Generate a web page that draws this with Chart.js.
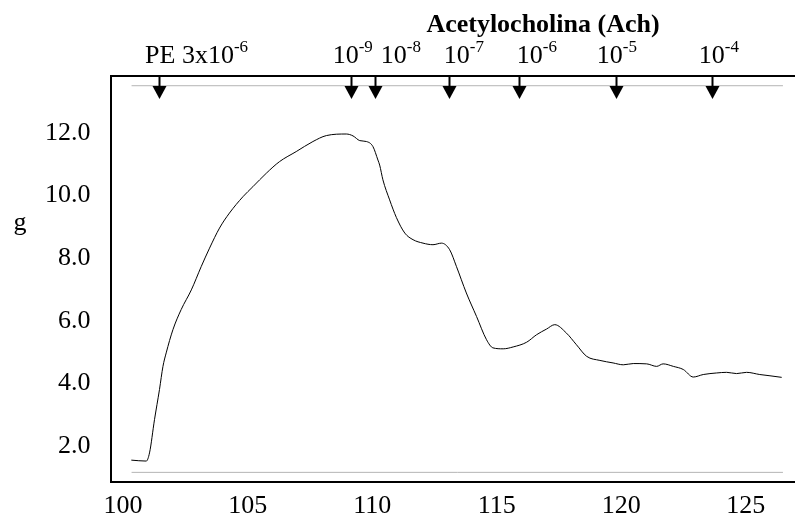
<!DOCTYPE html>
<html lang="es">
<head>
<meta charset="UTF-8" />
<title>Acetylocholina (Ach)</title>
<script src="https://cdn.jsdelivr.net/npm/chart.js"></script>
<style>
  html, body { margin: 0; padding: 0; background: #fff; }
</style>
</head>
<body>
<canvas id="chart" width="795" height="518"></canvas>
<script>
// time axis (x) and tension in g (y)
const timeX = [
  100.33, 100.93, 101.06, 101.26, 101.46, 101.60, 101.73, 102.00, 102.33, 102.74,
  103.14, 103.47, 103.87, 104.27, 104.81, 105.21, 105.75, 106.28, 106.95, 107.62,
  108.16, 108.96, 109.23, 109.50, 109.77, 110.03, 110.23, 110.30, 110.43, 110.70,
  110.97, 111.31, 111.64, 112.04, 112.44, 112.78, 113.11, 113.38, 113.78, 114.19,
  114.59, 114.85, 115.26, 115.66, 116.20, 116.60, 117.00, 117.33, 117.80, 118.20,
  118.61, 119.14, 119.67, 120.08, 120.48, 121.02, 121.42, 121.68, 122.09, 122.49,
  122.89, 123.29, 123.83, 124.23, 124.63, 125.03, 125.56, 125.97, 126.44
];
const tensionG = [
  1.56, 1.53, 1.79, 2.85, 3.81, 4.55, 4.98, 5.72, 6.36, 6.99,
  7.74, 8.32, 8.96, 9.44, 9.96, 10.28, 10.71, 11.08, 11.40, 11.72,
  11.91, 11.96, 11.90, 11.75, 11.72, 11.56, 11.13, 10.97, 10.50, 9.86,
  9.30, 8.80, 8.59, 8.48, 8.43, 8.48, 8.27, 7.74, 6.89, 6.14,
  5.40, 5.14, 5.11, 5.17, 5.32, 5.56, 5.74, 5.88, 5.61, 5.24,
  4.87, 4.74, 4.66, 4.60, 4.64, 4.63, 4.55, 4.63, 4.55, 4.45,
  4.21, 4.29, 4.34, 4.36, 4.32, 4.36, 4.29, 4.25, 4.20
];

const xTicks = [100, 105, 110, 115, 120, 125];
const yTicks = [2, 4, 6, 8, 10, 12];

// additions (arrows) and their labels
const doseX = [101.43, 109.16, 110.10, 113.07, 115.90, 119.77, 123.63];
const labelX = [102.95, 109.22, 111.15, 113.68, 116.61, 119.82, 123.92];
const labelBase = ["PE 3x10", "10", "10", "10", "10", "10", "10"];
const labelExp = ["-6", "-9", "-8", "-7", "-6", "-5", "-4"];

// the two thin grey lines of the recorder frame
const refLevels = [13.5, 1.17];
const refSpan = [100.34, 126.49];

const serif = "'Liberation Serif', 'Times New Roman', serif";

const annotations = {
  id: "annotations",
  afterDraw(chart) {
    const ctx = chart.ctx;
    const xs = chart.scales.x;
    const top = chart.chartArea.top;
    ctx.save();
    ctx.fillStyle = "#000";
    ctx.strokeStyle = "#000";

    // arrows
    doseX.forEach((v) => {
      const px = Math.round(xs.getPixelForValue(v)) + 0.5;
      ctx.lineWidth = 2;
      ctx.beginPath();
      ctx.moveTo(px, top);
      ctx.lineTo(px, top + 12);
      ctx.stroke();
      ctx.beginPath();
      ctx.moveTo(px - 7, top + 10);
      ctx.lineTo(px + 7, top + 10);
      ctx.lineTo(px, top + 23);
      ctx.closePath();
      ctx.fill();
    });

    // dose labels with superscripts
    ctx.textBaseline = "alphabetic";
    ctx.textAlign = "left";
    labelBase.forEach((base, i) => {
      ctx.font = "26px " + serif;
      const wb = ctx.measureText(base).width;
      ctx.font = "17px " + serif;
      const we = ctx.measureText(labelExp[i]).width;
      const cx = xs.getPixelForValue(labelX[i]);
      const x0 = cx - (wb + we) / 2;
      ctx.font = "26px " + serif;
      ctx.fillText(base, x0, 63);
      ctx.font = "17px " + serif;
      ctx.fillText(labelExp[i], x0 + wb, 52);
    });

    // heading
    ctx.font = "bold 26px " + serif;
    ctx.textAlign = "center";
    ctx.fillText("Acetylocholina (Ach)", 543, 32);

    // unit label
    ctx.font = "26px " + serif;
    ctx.fillText("g", 20, 230);
    ctx.restore();
  }
};

const xMin = 99.494, xMax = 126.974;

new Chart(document.getElementById("chart"), {
  type: "scatter",
  data: {
    datasets: [
      {
        data: timeX.map((x, i) => ({ x: x, y: tensionG[i] })),
        showLine: true,
        borderColor: "#000",
        borderWidth: 1,
        pointRadius: 0,
        cubicInterpolationMode: "monotone"
      },
      ...refLevels.map((lv) => ({
        data: refSpan.map((x) => ({ x: x, y: lv })),
        showLine: true,
        borderColor: "#b4b4b4",
        borderWidth: 1,
        pointRadius: 0
      }))
    ]
  },
  options: {
    responsive: false,
    animation: false,
    layout: { padding: { left: 25, top: 76, right: 0, bottom: -12 } },
    plugins: { legend: { display: false }, tooltip: { enabled: false } },
    scales: {
      x: {
        type: "linear",
        min: xMin,
        max: xMax,
        afterBuildTicks: (s) => { s.ticks = xTicks.map((v) => ({ value: v })); },
        ticks: {
          autoSkip: false,
          maxRotation: 0,
          padding: 16,
          color: "#000",
          font: { family: serif, size: 26, lineHeight: 0.6 }
        },
        grid: { display: false, drawTicks: false },
        border: { display: true, color: "#000", width: 2 }
      },
      xTop: {
        type: "linear",
        position: "top",
        min: xMin,
        max: xMax,
        ticks: { display: false },
        grid: { display: false, drawTicks: false },
        border: { display: true, color: "#000", width: 2 }
      },
      y: {
        min: 0.85,
        max: 13.81,
        afterBuildTicks: (s) => { s.ticks = yTicks.map((v) => ({ value: v })); },
        ticks: {
          padding: 20,
          color: "#000",
          font: { family: serif, size: 26 },
          callback: (v) => v.toFixed(1)
        },
        grid: { display: false, drawTicks: false },
        border: { display: true, color: "#000", width: 2 }
      }
    }
  },
  plugins: [annotations]
});
</script>
</body>
</html>
